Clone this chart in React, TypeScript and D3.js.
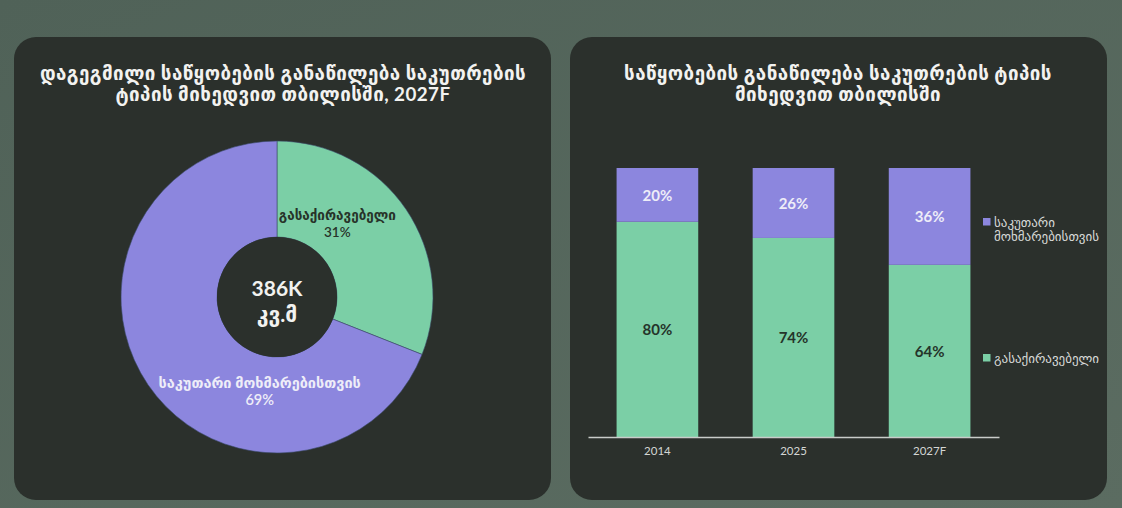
import { useEffect, useRef } from 'react'
import * as d3 from 'd3'

// donut (2027F)
const donutLabels = ['გასაქირავებელი', 'საკუთარი მოხმარებისთვის']
const donutValues = [31, 69]
const donutCenterLines = ['386K', 'კვ.მ']

// stacked bars
const years = ['2014', '2025', '2027F']
const forRent = [80, 74, 64]
const ownUse = [20, 26, 36]
const legendLabels = [['საკუთარი', 'მოხმარებისთვის'], ['გასაქირავებელი']]

const leftTitle = ['დაგეგმილი საწყობების განაწილება საკუთრების', 'ტიპის მიხედვით თბილისში, 2027F']
const rightTitle = ['საწყობების განაწილება საკუთრების ტიპის', 'მიხედვით თბილისში']

const W = 1122
const H = 508
const GREEN = '#7bcfa6'
const PURPLE = '#8c86de'
const PANEL = '#2b302c'
const FONT = "Lato, 'DejaVu Sans', sans-serif"

export default function App() {
  const svgRef = useRef<SVGSVGElement>(null)

  useEffect(() => {
    const svg = d3.select(svgRef.current)
    svg.selectAll('*').remove()

    const defs = svg.append('defs')
    const grad = defs.append('linearGradient').attr('id', 'bg').attr('x1', 0).attr('y1', 0).attr('x2', 1).attr('y2', 1)
    grad.append('stop').attr('offset', '0%').attr('stop-color', '#506258')
    grad.append('stop').attr('offset', '100%').attr('stop-color', '#5b6c61')

    svg.append('rect').attr('width', W).attr('height', H).attr('fill', 'url(#bg)')

    // panels
    const panels = [
      { x: 14, w: 537, title: leftTitle, cx: 283 },
      { x: 570, w: 537, title: rightTitle, cx: 838 },
    ]
    panels.forEach(p => {
      svg.append('rect')
        .attr('x', p.x).attr('y', 37).attr('width', p.w).attr('height', 463)
        .attr('rx', 22).attr('fill', PANEL)
      p.title.forEach((line, i) => {
        svg.append('text')
          .attr('x', p.cx).attr('y', 72 + i * 21)
          .attr('text-anchor', 'middle').attr('dominant-baseline', 'central')
          .attr('fill', '#f2f2f0').attr('font-family', FONT)
          .attr('font-size', 18.8).attr('font-weight', 700)
          .attr('letter-spacing', 0.45)
          .text(line)
      })
    })

    // ---- donut ----
    const cx = 277, cy = 297
    const outerR = 156, innerR = 60
    const pie = d3.pie<number>().sort(null).value(d => d)
    const arcs = pie(donutValues)
    const arc = d3.arc<d3.PieArcDatum<number>>().innerRadius(innerR).outerRadius(outerR)
    const dg = svg.append('g').attr('transform', `translate(${cx},${cy})`)
    const colors = [GREEN, PURPLE]
    dg.selectAll('path.slice')
      .data(arcs)
      .join('path')
      .attr('class', 'slice')
      .attr('d', arc)
      .attr('fill', (_, i) => colors[i])
      .attr('stroke', '#3a4a6a').attr('stroke-width', 0.6)
    dg.append('circle').attr('r', innerR).attr('fill', PANEL)

    const labelArc = d3.arc<d3.PieArcDatum<number>>().innerRadius(108).outerRadius(108)
    const labelShift = [[-29, -13], [72, 33]]
    const labelColor = ['#273329', '#eeedf8']
    const labelSize = [13.5, 14.5]
    arcs.forEach((a, i) => {
      const [x, y] = labelArc.centroid(a)
      const t = dg.append('text')
        .attr('text-anchor', 'middle')
        .attr('fill', labelColor[i]).attr('font-family', FONT)
        .attr('font-size', labelSize[i]).attr('font-weight', 600)
      t.append('tspan').attr('x', x + labelShift[i][0]).attr('y', y + labelShift[i][1] - 3).text(donutLabels[i])
      t.append('tspan').attr('x', x + labelShift[i][0]).attr('y', y + labelShift[i][1] + 14).text(`${donutValues[i]}%`)
    })
    donutCenterLines.forEach((line, i) => {
      dg.append('text')
        .attr('y', -10 + i * 26)
        .attr('text-anchor', 'middle').attr('dominant-baseline', 'central')
        .attr('fill', '#f2f2f0').attr('font-family', FONT)
        .attr('font-size', 21).attr('font-weight', 700)
        .text(line)
    })

    // ---- stacked bars ----
    const x = d3.scaleBand<string>().domain(years).range([588, 999]).paddingInner(0.4).paddingOuter(0.21)
    const y = d3.scaleLinear().domain([0, 100]).range([437, 168])
    const bg = svg.append('g')

    years.forEach((yr, i) => {
      const x0 = x(yr) ?? 0
      const bw = x.bandwidth()
      bg.append('rect')
        .attr('x', x0).attr('y', y(forRent[i])).attr('width', bw).attr('height', y(0) - y(forRent[i]))
        .attr('fill', GREEN)
      bg.append('rect')
        .attr('x', x0).attr('y', y(forRent[i] + ownUse[i])).attr('width', bw)
        .attr('height', y(forRent[i]) - y(forRent[i] + ownUse[i]))
        .attr('fill', PURPLE)
      bg.append('text')
        .attr('x', x0 + bw / 2).attr('y', y(forRent[i] / 2))
        .attr('text-anchor', 'middle').attr('dominant-baseline', 'central')
        .attr('fill', '#25342a').attr('font-family', FONT).attr('font-size', 15).attr('font-weight', 700)
        .text(`${forRent[i]}%`)
      bg.append('text')
        .attr('x', x0 + bw / 2).attr('y', y(forRent[i] + ownUse[i] / 2))
        .attr('text-anchor', 'middle').attr('dominant-baseline', 'central')
        .attr('fill', '#eeedf8').attr('font-family', FONT).attr('font-size', 15).attr('font-weight', 700)
        .text(`${ownUse[i]}%`)
    })

    const axis = bg.append('g')
      .attr('transform', `translate(0,${y(0)})`)
      .call(d3.axisBottom(x).tickSize(0).tickPadding(10))
    axis.select('.domain').attr('stroke', '#c9ccc9').attr('stroke-width', 1.3)
    axis.selectAll('text')
      .attr('fill', '#d4d6d4').attr('font-family', FONT).attr('font-size', 11.5)

    // legend
    const legendY = [218, 354]
    const legendColors = [PURPLE, GREEN]
    legendLabels.forEach((lines, i) => {
      svg.append('rect').attr('x', 983).attr('y', legendY[i]).attr('width', 7.5).attr('height', 7.5)
        .attr('fill', legendColors[i])
      lines.forEach((line, j) => {
        svg.append('text')
          .attr('x', 994).attr('y', legendY[i] + 4 + j * 14)
          .attr('dominant-baseline', 'central')
          .attr('fill', '#d8dad8').attr('font-family', FONT).attr('font-size', 13)
          .text(line)
      })
    })
  }, [])

  return (
    <div style={{ position: 'fixed', left: 0, top: 0, width: W, height: H }}>
      <svg ref={svgRef} width={W} height={H} style={{ display: 'block' }} />
    </div>
  )
}
